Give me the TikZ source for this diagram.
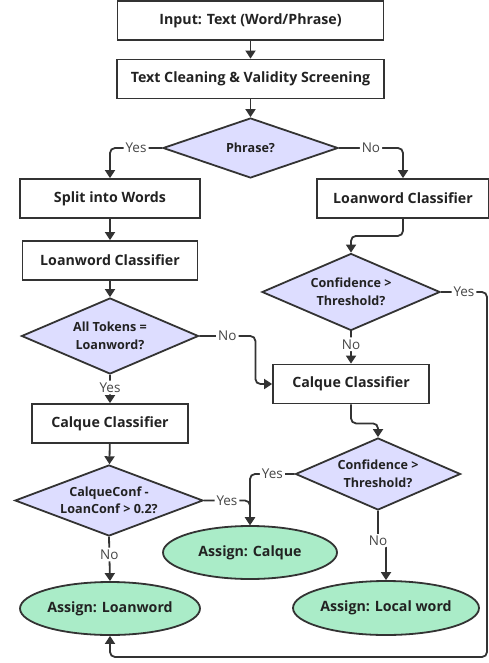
\documentclass[tikz,border=0pt]{standalone}
\usepackage{fontspec}
\setmainfont{Open Sans}
\usetikzlibrary{shapes.geometric,arrows.meta}
\definecolor{fcline}{RGB}{51,51,51}
\definecolor{fctext}{RGB}{34,34,34}
\definecolor{fclabel}{RGB}{70,70,70}
\definecolor{fcdecide}{RGB}{221,221,255}
\definecolor{fcend}{RGB}{170,236,200}

\begin{document}
\begin{tikzpicture}[x=1pt,y=-1pt,
  every node/.style={text=fctext,font=\bfseries\fontsize{14.2}{17}\selectfont},
  proc/.style={draw=fcline,line width=1.8pt,fill=white,minimum height=39pt,inner sep=0pt},
  decide/.style={diamond,draw=fcline,line width=1.8pt,fill=fcdecide,inner sep=0pt,
    aspect=2.3,align=center,font=\bfseries\fontsize{12.6}{17.5}\selectfont},
  result/.style={ellipse,draw=fcline,line width=1.8pt,fill=fcend,inner sep=0pt},
  flow/.style={draw=fcline,line width=1.8pt,rounded corners=5pt,-{Triangle[length=8pt,width=10pt]}},
  lbl/.style={fill=white,text=fclabel,inner sep=2pt,font=\fontsize{13.5}{15}\selectfont}]
  \useasboundingbox (0,0) rectangle (489,663);
  \node[proc,minimum width=266pt] (input) at (250.5,20.5) {Input: Text (Word/Phrase)};
  \node[proc,minimum width=267pt] (clean) at (250.5,79) {Text Cleaning \& Validity Screening};
  \node[decide,minimum width=175pt,minimum height=60pt] (phrase) at (250.5,148) {Phrase?};
  \node[proc,minimum width=180pt] (split) at (110,198.5) {Split into Words};
  \node[proc,minimum width=172pt] (loanR) at (403,198.5) {Loanword Classifier};
  \node[proc,minimum width=175pt] (loanL) at (110,260.5) {Loanword Classifier};
  \node[decide,minimum width=178pt,minimum height=77pt] (confA) at (351,292) {Confidence >\\Threshold?};
  \node[decide,minimum width=177pt,minimum height=76pt] (tokens) at (110,336) {All Tokens =\\Loanword?};
  \node[proc,minimum width=156pt] (calqR) at (351,384) {Calque Classifier};
  \node[proc,minimum width=156pt] (calqL) at (110,423.5) {Calque Classifier};
  \node[decide,minimum width=165pt,minimum height=72pt] (confB) at (378,474) {Confidence >\\Threshold?};
  \node[decide,minimum width=188pt,minimum height=71pt] (margin) at (109,500.5) {CalqueConf -\\LoanConf > 0.2?};
  \node[result,minimum width=174pt,minimum height=53pt] (calque) at (250,552.5) {Assign: Calque};
  \node[result,minimum width=180pt,minimum height=53pt] (loan) at (110,608.5) {Assign: Loanword};
  \node[result,minimum width=186pt,minimum height=54pt] (local) at (386,608) {Assign: Local word};
  \coordinate (back) at (487,657);

  \draw[flow] (input) -- (clean);
  \draw[flow] (clean) -- (phrase);
  \draw[flow] (phrase.west) -| node[lbl,pos=0.25] {Yes} (split.north);
  \draw[flow] (phrase.east) -| node[lbl,pos=0.25] {No} (loanR.north);
  \draw[flow] (split) -- (loanL);
  \draw[flow] (loanL) -- (tokens);
  \draw[flow] (loanR.south) -- ++(0,17) -| (confA.north);
  \draw[flow] (confA.east) -| node[lbl,pos=0.25] {Yes} (back) -| (loan.south);
  \draw[flow] (confA.south) -- node[lbl,pos=0.4] {No} (calqR.north);
  \draw[flow] (tokens.east) -- node[lbl] {No} ++(56,0) |- (calqR.west);
  \draw[flow] (tokens.south) -- node[lbl,pos=0.45] {Yes} (calqL.north);
  \draw[flow] (calqL) -- (margin);
  \draw[flow] (margin.east) -| node[lbl,pos=0.25] {Yes} (calque.north);
  \draw[flow] (calqR.south) -- ++(0,19) -| (confB.north);
  \draw[flow] (confB.west) -| node[lbl,pos=0.25] {Yes} (calque.north);
  \draw[flow] (confB.south) -- ++(0,30) node[lbl] {No} -| (local.north);
  \draw[flow] (margin.south) -- node[lbl,pos=0.4] {No} (loan.north);
\end{tikzpicture}
\end{document}
